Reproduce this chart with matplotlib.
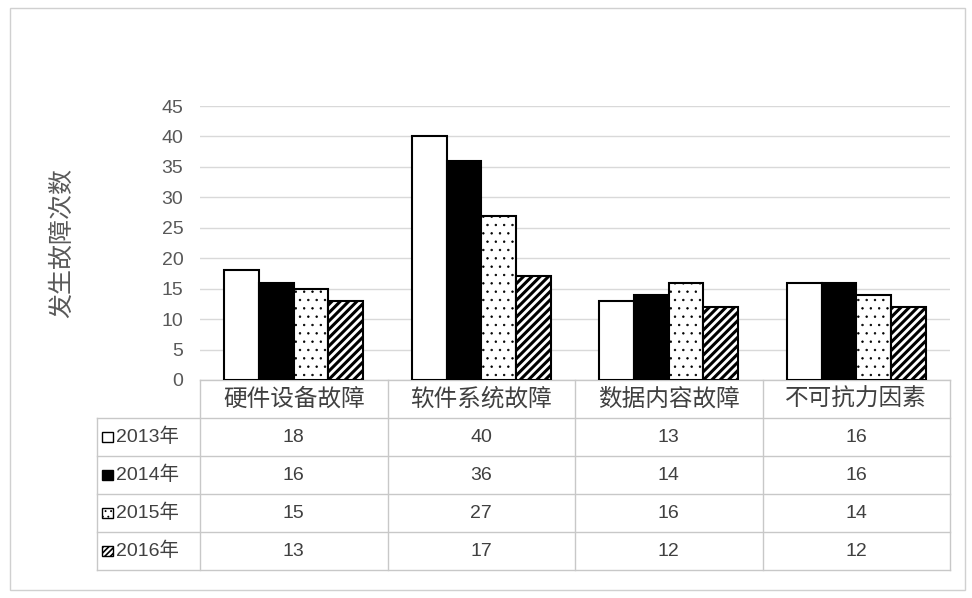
import matplotlib
matplotlib.use("Agg")
import matplotlib.pyplot as plt
from matplotlib.patches import Rectangle
from matplotlib.transforms import blended_transform_factory
import numpy as np

plt.rcParams['font.family'] = ['Noto Sans CJK SC', 'DejaVu Sans']

# datos
categorias = ['硬件设备故障', '软件系统故障', '数据内容故障', '不可抗力因素']
anios = ['2013年', '2014年', '2015年', '2016年']
v2013 = [18, 40, 13, 16]
v2014 = [16, 36, 14, 16]
v2015 = [15, 27, 16, 14]
v2016 = [13, 17, 12, 12]
series = [v2013, v2014, v2015, v2016]
yticks = [0, 5, 10, 15, 20, 25, 30, 35, 40, 45]

colores = ['white', 'black', 'white', 'white']
tramas = ['', '', '..', '////']
tramas_leyenda = ['', '', '...', '//////']
grosor_trama = [1.0, 1.0, 0.5, 2.2]

fig = plt.figure(figsize=(9.72, 5.98), dpi=100)
ax = fig.add_axes([200/972, (598-380)/598, 750/972, 274/598])

x = np.arange(len(categorias))
ancho = 0.185
for k, vals in enumerate(series):
    plt.rcParams['hatch.linewidth'] = grosor_trama[k]
    ax.bar(x + (k - 1.5)*ancho, vals, ancho, color=colores[k], edgecolor='black',
           hatch=tramas[k], linewidth=1.5, zorder=3)

ax.set_xlim(-0.5, 3.5)
ax.set_ylim(0, 45)
ax.set_yticks(yticks)
ax.set_yticklabels([str(t) for t in yticks], fontsize=14, color='#595959',
                   family=['Liberation Sans', 'DejaVu Sans'])
ax.set_xticks([])
ax.tick_params(axis='y', length=0, pad=12)
ax.grid(axis='y', color='#d9d9d9', linewidth=1, zorder=0)
for s in ax.spines.values():
    s.set_visible(False)

ax.set_ylabel('发生故障次数', fontsize=18, color='#595959', labelpad=62)

# tabla de datos
tr = blended_transform_factory(ax.transData, ax.transAxes)
fila_h = 38/274
izq = -0.5 - 103/187.5
gris = '#c8c8c8'

# encabezado
for i, c in enumerate(categorias):
    ax.text(i, -fila_h/2, c, transform=tr, ha='center', va='center',
            fontsize=17, color='#404040', clip_on=False)
# filas
for k, vals in enumerate(series):
    yc = -fila_h*(k + 1.5)
    for i, v in enumerate(vals):
        ax.text(i, yc, str(v), transform=tr, ha='center', va='center',
                fontsize=14, color='#404040', clip_on=False,
                family=['Liberation Sans', 'DejaVu Sans'])
    ax.text(izq + 0.1, yc, anios[k], transform=tr, ha='left', va='center',
            fontsize=14, color='#404040', clip_on=False,
            family=['Liberation Sans', 'Noto Sans CJK SC'])
    plt.rcParams['hatch.linewidth'] = 1.2 if k == 3 else 0.6
    ax.add_patch(Rectangle((izq + 0.025, yc - 0.018), 0.06, 0.036,
                           transform=tr, facecolor=colores[k], edgecolor='black',
                           hatch=tramas_leyenda[k], linewidth=1.0,
                           clip_on=False))

# lineas de la tabla
fondo = -fila_h*5
for j in range(6):
    yl = -fila_h*j
    x0 = -0.5 if j == 0 else izq
    ax.plot([x0, 3.5], [yl, yl], transform=tr, color=gris, lw=1, clip_on=False)
for xb in [-0.5, 0.5, 1.5, 2.5, 3.5]:
    ax.plot([xb, xb], [0, fondo], transform=tr, color=gris, lw=1, clip_on=False)
ax.plot([izq, izq], [-fila_h, fondo], transform=tr, color=gris, lw=1, clip_on=False)

# marco
fig.patches.append(Rectangle((10/972, 8/598), 955/972, 582/598, transform=fig.transFigure,
                             fill=False, edgecolor='#d0d0d0', lw=1))

plt.savefig('out.png', dpi=100)
